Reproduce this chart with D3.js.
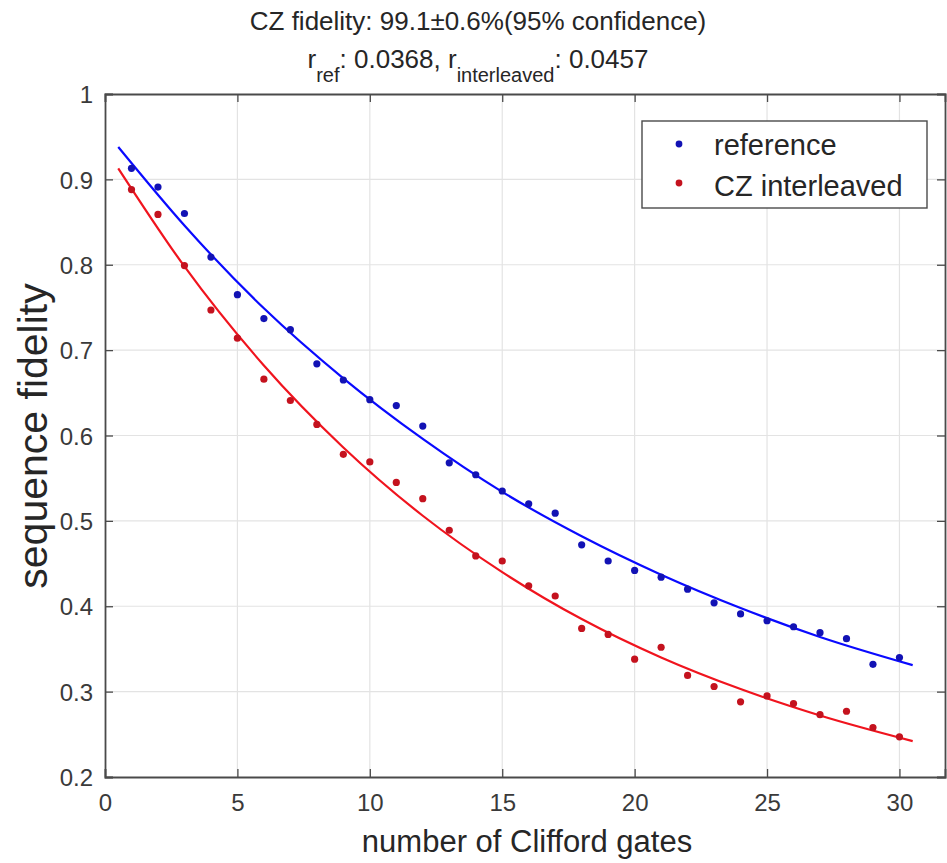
<!DOCTYPE html>
<html><head><meta charset="utf-8">
<script src="https://cdn.jsdelivr.net/npm/d3@7"></script>
<style>body{margin:0;background:#fff}svg{display:block;font-family:"Liberation Sans",Arial,Helvetica,sans-serif}</style>
</head><body><svg id="c" width="947" height="863"></svg>
<script>
const gates = [1,2,3,4,5,6,7,8,9,10,11,12,13,14,15,16,17,18,19,20,21,22,23,24,25,26,27,28,29,30];
const referenceFidelity = [0.913,0.891,0.860,0.809,0.765,0.737,0.724,0.684,0.665,0.642,0.635,0.611,0.568,0.554,0.535,0.520,0.509,0.472,0.453,0.442,0.434,0.420,0.404,0.391,0.383,0.376,0.369,0.362,0.332,0.340];
const czFidelity = [0.888,0.859,0.799,0.747,0.714,0.666,0.641,0.613,0.578,0.569,0.545,0.526,0.489,0.459,0.453,0.424,0.412,0.374,0.367,0.338,0.352,0.319,0.306,0.288,0.295,0.286,0.273,0.277,0.258,0.247];
const fitGates = [0.5,3,6,9,12,15,18,21,24,27,30.5];
const referenceFit = [0.938,0.846,0.749,0.667,0.596,0.534,0.482,0.437,0.398,0.364,0.331];
const czFit = [0.913,0.798,0.682,0.586,0.506,0.440,0.385,0.340,0.303,0.272,0.242];
const xTicks = [0,5,10,15,20,25,30];
const yTicks = [0.2,0.3,0.4,0.5,0.6,0.7,0.8,0.9,1];
const yTickLabels = ["0.2","0.3","0.4","0.5","0.6","0.7","0.8","0.9","1"];
const legendLabels = ["reference","CZ interleaved"];

const L=105,R=945,T=94,B=777;
const svg=d3.select("#c");
const x=d3.scaleLinear().domain([0,31.72]).range([L,R]);
const y=d3.scaleLinear().domain([0.2,1]).range([B,T]);
const axisCol="#4a4a4a", gridCol="#e3e3e3", textCol="#262626";

// grid
svg.append("g").selectAll("line").data(xTicks.slice(1)).join("line")
  .attr("x1",d=>x(d)).attr("x2",d=>x(d)).attr("y1",T).attr("y2",B)
  .attr("stroke",gridCol).attr("stroke-width",1.2);
svg.append("g").selectAll("line").data(yTicks.slice(1,-1)).join("line")
  .attr("y1",d=>y(d)).attr("y2",d=>y(d)).attr("x1",L).attr("x2",R)
  .attr("stroke",gridCol).attr("stroke-width",1.2);

// axes
const fs=24;
const gx=svg.append("g").attr("transform",`translate(0,${B})`)
  .call(d3.axisBottom(x).tickValues(xTicks).tickSize(-8).tickPadding(16).tickFormat(d3.format("d")));
const gxt=svg.append("g").attr("transform",`translate(0,${T})`)
  .call(d3.axisTop(x).tickValues(xTicks).tickSize(-8).tickFormat(""));
const gy=svg.append("g").attr("transform",`translate(${L},0)`)
  .call(d3.axisLeft(y).tickValues(yTicks).tickSize(-8).tickPadding(12).tickFormat((d,i)=>yTickLabels[i]));
const gyr=svg.append("g").attr("transform",`translate(${R},0)`)
  .call(d3.axisRight(y).tickValues(yTicks).tickSize(-8).tickFormat(""));
[gx,gxt,gy,gyr].forEach(g=>{
  g.select(".domain").attr("stroke",axisCol).attr("stroke-width",1.8);
  g.selectAll(".tick line").attr("stroke",axisCol).attr("stroke-width",1.3);
  g.selectAll(".tick text").attr("fill","#3a3a3a").attr("font-size",fs).attr("font-family","Liberation Sans, Arial, sans-serif");
});
gx.selectAll(".tick text").attr("dy","0.75em");
gy.selectAll(".tick text").attr("dy","0.36em");

// fits
const line=d3.line().x(d=>x(d[0])).y(d=>y(d[1])).curve(d3.curveMonotoneX);
svg.append("path").datum(fitGates.map((g,i)=>[g,referenceFit[i]])).attr("d",line)
  .attr("fill","none").attr("stroke","#0a0aff").attr("stroke-width",2.2);
svg.append("path").datum(fitGates.map((g,i)=>[g,czFit[i]])).attr("d",line)
  .attr("fill","none").attr("stroke","#f0141e").attr("stroke-width",2.2);

// points
svg.append("g").selectAll("circle").data(gates.map((g,i)=>[g,referenceFidelity[i]])).join("circle")
  .attr("cx",d=>x(d[0])).attr("cy",d=>y(d[1])).attr("r",3.6).attr("fill","#1212b4");
svg.append("g").selectAll("circle").data(gates.map((g,i)=>[g,czFidelity[i]])).join("circle")
  .attr("cx",d=>x(d[0])).attr("cy",d=>y(d[1])).attr("r",3.6).attr("fill","#c4121e");

// legend
const lg=svg.append("g");
lg.append("rect").attr("x",642).attr("y",121).attr("width",285).attr("height",87)
  .attr("fill","#fff").attr("stroke",axisCol).attr("stroke-width",1.4);
const legCols=["#1212b4","#c4121e"];
legendLabels.forEach((t,i)=>{
  lg.append("circle").attr("cx",679).attr("cy",144+i*39).attr("r",3.4).attr("fill",legCols[i]);
  lg.append("text").attr("x",714).attr("y",155+i*41).attr("font-size",29).attr("fill",textCol).text(t);
});

// labels
svg.append("text").attr("x",527).attr("y",852).attr("text-anchor","middle")
  .attr("font-size",31).attr("fill",textCol).text("number of Clifford gates");
svg.append("text").attr("transform","translate(47,436) rotate(-90)").attr("text-anchor","middle")
  .attr("font-size",41).attr("fill",textCol).text("sequence fidelity");

// title
svg.append("text").attr("x",478).attr("y",30).attr("text-anchor","middle")
  .attr("font-size",26).attr("fill",textCol).text("CZ fidelity: 99.1\u00b10.6%(95% confidence)");
const t2=svg.append("text").attr("x",478).attr("y",68).attr("text-anchor","middle")
  .attr("font-size",26).attr("fill",textCol);
t2.append("tspan").text("r");
t2.append("tspan").attr("font-size",20).attr("dy",14).text("ref");
t2.append("tspan").attr("dy",-14).text(": 0.0368, r");
t2.append("tspan").attr("font-size",20).attr("dy",14).text("interleaved");
t2.append("tspan").attr("dy",-14).text(": 0.0457");
</script></body></html>
